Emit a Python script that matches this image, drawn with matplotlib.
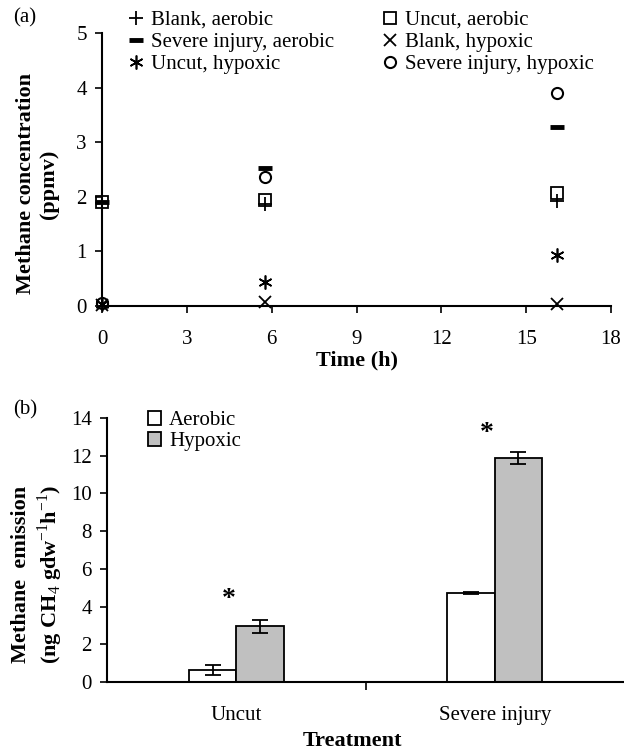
import matplotlib
matplotlib.use("Agg")
import matplotlib.pyplot as plt
import numpy as np

# ==========================================
# DATA
# ==========================================
time_h = [0, 5.78, 16.1]
blank_aerobic = [1.89, 1.87, 1.93]
uncut_aerobic = [1.90, 1.94, 2.07]
severe_aerobic = [1.90, 2.52, 3.28]
blank_hypoxic = [0.02, 0.07, 0.04]
uncut_hypoxic = [0.04, 0.44, 0.93]
severe_hypoxic = [0.05, 2.36, 3.90]

treatments = ["Uncut", "Severe injury"]
aerobic_mean = [0.62, 4.72]
aerobic_err = [0.26, 0.05]
hypoxic_mean = [2.95, 11.88]
hypoxic_err = [0.33, 0.32]
signif_y = [4.4, 13.2]

# ==========================================
# STYLE
# ==========================================
plt.rcParams['font.family'] = ['Liberation Serif', 'DejaVu Serif']
plt.rcParams['mathtext.fontset'] = 'custom'
plt.rcParams['mathtext.rm'] = 'Liberation Serif'
plt.rcParams['mathtext.bf'] = 'Liberation Serif:bold'
FS = 15     # ticks / legends
FL = 16     # bold axis labels

fig = plt.figure(figsize=(6.24, 7.5), dpi=100)

# ==========================================
# PANEL (a)
# ==========================================
ax1 = fig.add_axes([102 / 624, 1 - 306 / 750, (611 - 102) / 624, (306 - 33) / 750])
mk = dict(linestyle='none', color='black', markeredgecolor='black')
series = [
    (blank_aerobic, '+', "Blank, aerobic", dict(markersize=10, markeredgewidth=1.3)),
    (uncut_aerobic, 's', "Uncut, aerobic", dict(markersize=8, markeredgewidth=1.3, markerfacecolor='none')),
    (severe_aerobic, '_', "Severe injury, aerobic", dict(markersize=10, markeredgewidth=3.5)),
    (blank_hypoxic, 'x', "Blank, hypoxic", dict(markersize=9, markeredgewidth=1.3)),
    (uncut_hypoxic, (6, 2, 0), "Uncut, hypoxic", dict(markersize=10, markeredgewidth=1.2)),
    (severe_hypoxic, 'o', "Severe injury, hypoxic", dict(markersize=8, markeredgewidth=1.5, markerfacecolor='none')),
]
handles = {}
for vals, m, lab, kw in series:
    h, = ax1.plot(time_h, vals, marker=m, label=lab, clip_on=False, **mk, **kw)
    handles[lab] = h

ax1.set_xlim(0, 18)
ax1.set_ylim(0, 5)
ax1.set_xticks(np.arange(0, 19, 3))
ax1.set_yticks(np.arange(0, 6, 1))
for s in ['top', 'right']:
    ax1.spines[s].set_visible(False)
for s in ['left', 'bottom']:
    ax1.spines[s].set_linewidth(1.5)
ax1.tick_params(direction='out', length=5, width=1.2, labelsize=FS, pad=6)
ax1.tick_params(axis='x', pad=12)
ax1.set_xlabel("Time (h)", fontsize=FL, fontweight='bold', labelpad=1)

order = ["Blank, aerobic", "Uncut, aerobic", "Severe injury, aerobic",
         "Blank, hypoxic", "Uncut, hypoxic", "Severe injury, hypoxic"]
# legend fills column-wise
col_order = [order[0], order[2], order[4], order[1], order[3], order[5]]
fig.legend([handles[k] for k in col_order], col_order, ncol=2,
           loc='upper left', bbox_to_anchor=(120 / 624, 1 - 2 / 750),
           frameon=False, fontsize=FS, handlelength=0.7, handletextpad=0.4,
           columnspacing=2.3, labelspacing=0.12, borderaxespad=0)

fig.text(25 / 624, 1 - 18 / 750, "(a)", fontsize=FS, ha='center', va='center')
fig.text(38 / 624, 1 - 184 / 750, "Methane concentration\n(ppmv)", fontsize=FL,
         fontweight='bold', rotation=90, ha='center', va='center',
         multialignment='center', linespacing=1.2)

# ==========================================
# PANEL (b)
# ==========================================
ax2 = fig.add_axes([107 / 624, 1 - 682 / 750, (624 - 107) / 624, (682 - 418) / 750])
x = np.arange(len(treatments))
w = 0.183
ax2.bar(x - w / 2, aerobic_mean, w, yerr=aerobic_err, color='white', edgecolor='black',
        linewidth=1.3, label="Aerobic", capsize=6,
        error_kw=dict(ecolor='black', elinewidth=1.3, capthick=1.3))
ax2.bar(x + w / 2, hypoxic_mean, w, yerr=hypoxic_err, color='#c0c0c0', edgecolor='black',
        linewidth=1.3, label="Hypoxic", capsize=6,
        error_kw=dict(ecolor='black', elinewidth=1.3, capthick=1.3))
for xi, yi in zip(x, signif_y):
    ax2.text(xi - 0.03, yi, "*", fontsize=FS + 5, fontweight='bold',
             ha='center', va='center')

ax2.set_xlim(-0.5, 1.5)
ax2.set_ylim(0, 14)
ax2.set_yticks(np.arange(0, 15, 2))
ax2.set_xticks([0.5])
ax2.set_xticklabels([""])
ax2.set_xticks(x, minor=True)
ax2.set_xticklabels(treatments, minor=True)
ax2.tick_params(axis='x', which='minor', length=0, labelsize=FS, pad=17)
ax2.tick_params(axis='x', which='major', direction='out', length=6, width=1.2)
ax2.tick_params(axis='y', direction='out', length=5, width=1.2, labelsize=FS, pad=6)
for s in ['top', 'right']:
    ax2.spines[s].set_visible(False)
for s in ['left', 'bottom']:
    ax2.spines[s].set_linewidth(1.5)
fig.text(352 / 624, 1 - 741 / 750, "Treatment", fontsize=FL, fontweight='bold',
         ha='center', va='center')

ax2.legend(loc='upper left', bbox_to_anchor=(140 / 624, 1 - 403 / 750),
           bbox_transform=fig.transFigure, frameon=False, fontsize=FS,
           handlelength=0.6, handleheight=0.6, handletextpad=0.4,
           labelspacing=0.1, borderaxespad=0)

fig.text(25 / 624, 1 - 410 / 750, "(b)", fontsize=FS, ha='center', va='center')
fig.text(38 / 624, 1 - 574 / 750,
         "Methane  emission\n(ng CH$_4$ gdw$^{-1}$h$^{-1}$)", fontsize=FL,
         fontweight='bold', rotation=90, ha='center', va='center',
         multialignment='center', linespacing=1.2)

fig.savefig("out.png", dpi=100)
